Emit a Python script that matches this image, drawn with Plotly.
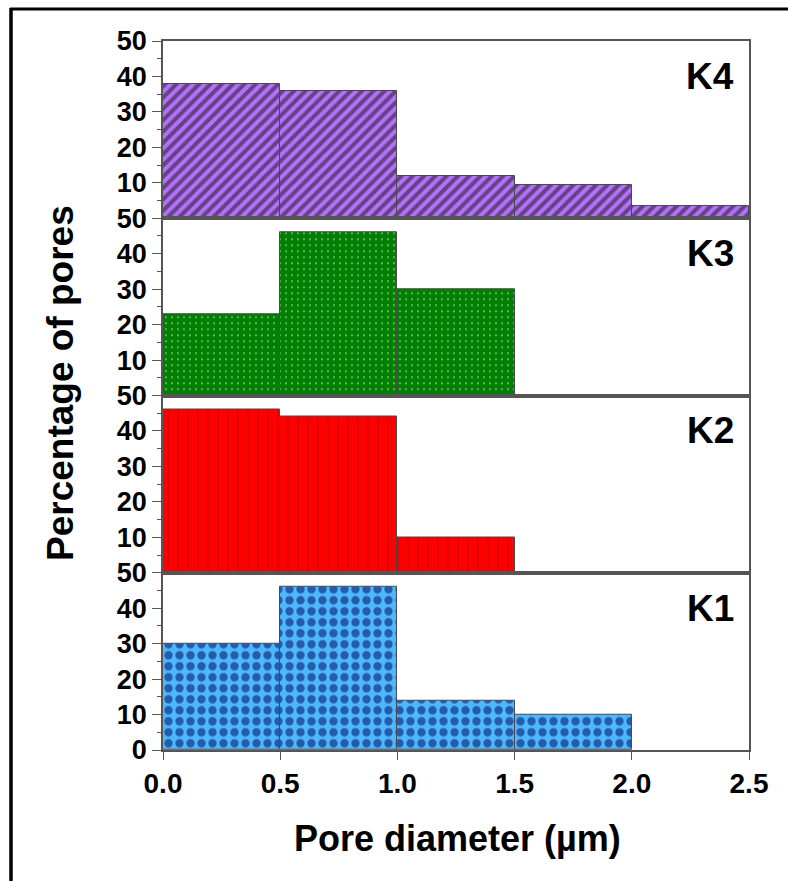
import plotly.graph_objects as go
from plotly.subplots import make_subplots

# Pore-size distribution (percentage of pores per 0.5 µm bin)
bin_edges = [0.0, 0.5, 1.0, 1.5, 2.0, 2.5]
samples = ["K4", "K3", "K2", "K1"]  # top panel to bottom panel
k4_pct = [38, 36, 12, 9.5, 3.5]
k3_pct = [23, 46, 30]
k2_pct = [46, 44, 10]
k1_pct = [30, 46, 14, 10]
x_tick_labels = ["0.0", "0.5", "1.0", "1.5", "2.0", "2.5"]

series = {"K4": k4_pct, "K3": k3_pct, "K2": k2_pct, "K1": k1_pct}

patterns = {
    "K4": dict(shape="/", bgcolor="#b470f8", fgcolor="#141414", size=8, solidity=0.5),
    "K3": dict(shape=".", bgcolor="#008000", fgcolor="#ffffff", size=6, solidity=0.09),
    "K2": dict(shape="|", bgcolor="#ff0000", fgcolor="#4a0808", size=10, solidity=0.1, fgopacity=0.32),
    "K1": dict(shape=".", bgcolor="#4db8ff", fgcolor="#000050", size=11, solidity=0.45),
}

W, H = 788, 881
L, R, T, B = 163, 39, 41, 131
FONT = "Arial, 'Liberation Sans', sans-serif"
AXIS_COLOR = "#555555"


def px_x(p):
    return (p - L) / (W - L - R)


def px_y(p):
    return (H - B - p) / (H - T - B)


fig = make_subplots(rows=4, cols=1, shared_xaxes=True, vertical_spacing=0)

for i, name in enumerate(samples, start=1):
    vals = series[name]
    lefts = bin_edges[:len(vals)]
    widths = [bin_edges[j + 1] - bin_edges[j] for j in range(len(vals))]
    centers = [lefts[j] + widths[j] / 2 for j in range(len(vals))]
    fig.add_trace(
        go.Bar(
            x=centers, y=vals, width=widths, name=name,
            marker=dict(color=patterns[name]["bgcolor"], pattern=patterns[name],
                        line=dict(color="#4a4a4a", width=1)),
            showlegend=False,
        ),
        row=i, col=1,
    )
    last = i == len(samples)
    fig.update_yaxes(
        range=[0, 50],
        tickvals=[0, 10, 20, 30, 40, 50] if last else [10, 20, 30, 40, 50],
        ticks="outside", ticklen=9, tickwidth=1.3, tickcolor=AXIS_COLOR,
        minor=dict(tickvals=[5, 15, 25, 35, 45], ticks="outside", ticklen=4,
                   tickwidth=1.2, tickcolor=AXIS_COLOR),
        showline=True, mirror=True, linecolor=AXIS_COLOR, linewidth=1.5,
        showgrid=False, zeroline=False,
        tickfont=dict(family=FONT, size=27, color="#000000", weight="bold"),
        row=i, col=1,
    )
    fig.update_xaxes(
        range=[0, 2.5],
        tickvals=bin_edges, ticktext=x_tick_labels,
        ticks="outside" if last else "", ticklen=8, tickwidth=1.3, tickcolor=AXIS_COLOR,
        showticklabels=last,
        showline=True, mirror=True, linecolor=AXIS_COLOR, linewidth=1.5,
        showgrid=False, zeroline=False,
        tickfont=dict(family=FONT, size=28, color="#000000", weight="bold"),
        row=i, col=1,
    )
    yref = "y domain" if i == 1 else f"y{i} domain"
    xref = "x domain" if i == 1 else f"x{i} domain"
    fig.add_annotation(
        text=name, x=0.977, y=0.8, xref=xref, yref=yref,
        xanchor="right", yanchor="middle", showarrow=False,
        font=dict(family=FONT, size=37, color="#000000", weight="bold"),
    )

# Axis titles
fig.add_annotation(
    text="Percentage of pores", x=px_x(60), y=px_y(383), xref="paper", yref="paper",
    textangle=-90, showarrow=False, xanchor="center", yanchor="middle",
    font=dict(family=FONT, size=37, color="#000000", weight="bold"),
)
fig.add_annotation(
    text="Pore diameter (\u00b5m)", x=px_x(457), y=px_y(838), xref="paper", yref="paper",
    showarrow=False, xanchor="center", yanchor="middle",
    font=dict(family=FONT, size=36, color="#000000", weight="bold"),
)

# Outer frame (top and left edges)
fig.add_shape(type="line", xref="paper", yref="paper",
              x0=px_x(10), x1=px_x(800), y0=px_y(9), y1=px_y(9),
              line=dict(color="#000000", width=3))
fig.add_shape(type="line", xref="paper", yref="paper",
              x0=px_x(11), x1=px_x(11), y0=px_y(8), y1=px_y(890),
              line=dict(color="#000000", width=3.5))

fig.update_layout(
    width=W, height=H,
    margin=dict(l=L, r=R, t=T, b=B),
    paper_bgcolor="#ffffff", plot_bgcolor="#ffffff",
    bargap=0,
)

fig.write_html("out.html")
